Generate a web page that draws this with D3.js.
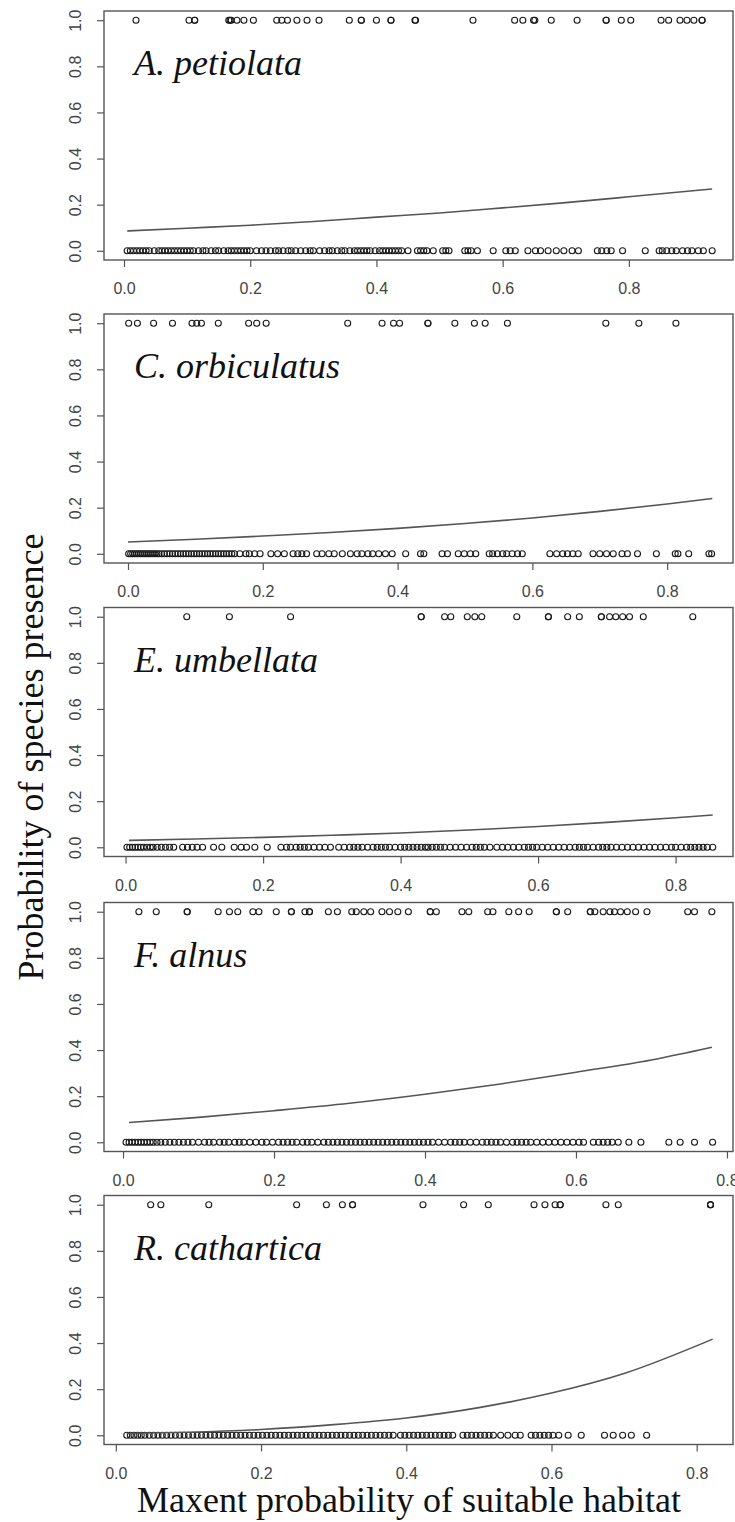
<!DOCTYPE html>
<html>
<head>
<meta charset="utf-8">
<script src="https://cdn.jsdelivr.net/npm/d3@7"></script>
<style>
  body { margin: 0; background: #fff; }
  svg { display: block; }
</style>
</head>
<body>
<svg id="chart"></svg>
<script>
// species shown in the five panels, top to bottom
const species = ['A. petiolata', 'C. orbiculatus', 'E. umbellata', 'F. alnus', 'R. cathartica'];

const xTicks = [0, 0.2, 0.4, 0.6, 0.8];
const yTicks = [0, 0.2, 0.4, 0.6, 0.8, 1.0];

// maxent values of sites where the species was found (y = 1)
const petiolataPresent = [0.019, 0.103, 0.112, 0.112, 0.166, 0.168, 0.17, 0.179, 0.19, 0.205, 0.242, 0.25, 0.259, 0.274, 0.29, 0.309,
  0.357, 0.376, 0.376, 0.4, 0.423, 0.423, 0.461, 0.462, 0.553, 0.619, 0.632, 0.649, 0.651, 0.677, 0.718, 0.764, 0.764, 0.788, 0.803,
  0.851, 0.863, 0.881, 0.892, 0.903, 0.916, 0.916];
const orbiculatusPresent = [0.001, 0.014, 0.038, 0.066, 0.095, 0.102, 0.109, 0.134, 0.179, 0.191, 0.205, 0.326, 0.377, 0.394, 0.403,
  0.445, 0.445, 0.485, 0.514, 0.53, 0.563, 0.709, 0.758, 0.813];
const umbellataPresent = [0.089, 0.151, 0.24, 0.43, 0.43, 0.464, 0.473, 0.497, 0.508, 0.518, 0.569, 0.615, 0.615, 0.643, 0.66, 0.692,
  0.692, 0.704, 0.713, 0.723, 0.733, 0.753, 0.825];
const alnusPresent = [0.021, 0.044, 0.085, 0.085, 0.126, 0.141, 0.152, 0.172, 0.18, 0.203, 0.223, 0.223, 0.241, 0.247, 0.247, 0.272,
  0.284, 0.303, 0.309, 0.319, 0.328, 0.343, 0.353, 0.364, 0.378, 0.407, 0.407, 0.415, 0.449, 0.458, 0.483, 0.49, 0.511, 0.524, 0.538,
  0.574, 0.574, 0.589, 0.619, 0.619, 0.625, 0.636, 0.645, 0.651, 0.659, 0.668, 0.679, 0.694, 0.748, 0.757, 0.78];
const catharticaPresent = [0.048, 0.062, 0.128, 0.249, 0.29, 0.312, 0.326, 0.326, 0.423, 0.479, 0.513, 0.576, 0.591, 0.605, 0.612,
  0.612, 0.675, 0.692, 0.819, 0.819, 0.819];

// maxent values of sites where the species was absent (y = 0)
const petiolataAbsent = [0.005, 0.01, 0.015, 0.02, 0.025, 0.03, 0.035, 0.04, 0.048, 0.055, 0.06, 0.065, 0.07, 0.075, 0.08, 0.085,
  0.09, 0.095, 0.1, 0.105, 0.11, 0.118, 0.125, 0.13, 0.138, 0.145, 0.15, 0.158, 0.165, 0.17, 0.175, 0.18, 0.185, 0.19, 0.195, 0.2,
  0.21, 0.218, 0.225, 0.232, 0.24, 0.245, 0.252, 0.26, 0.265, 0.272, 0.28, 0.288, 0.295, 0.3, 0.31, 0.318, 0.325, 0.33, 0.338, 0.345,
  0.35, 0.358, 0.365, 0.37, 0.375, 0.38, 0.385, 0.39, 0.398, 0.405, 0.41, 0.415, 0.42, 0.425, 0.43, 0.435, 0.44, 0.45, 0.465, 0.47,
  0.475, 0.48, 0.49, 0.505, 0.51, 0.515, 0.54, 0.545, 0.55, 0.56, 0.585, 0.605, 0.612, 0.62, 0.64, 0.652, 0.66, 0.672, 0.685, 0.697,
  0.71, 0.72, 0.75, 0.757, 0.765, 0.772, 0.79, 0.826, 0.848, 0.853, 0.86, 0.868, 0.875, 0.885, 0.893, 0.9, 0.91, 0.918, 0.932];
const orbiculatusAbsent = [0.001, 0.004, 0.007, 0.01, 0.013, 0.016, 0.019, 0.022, 0.025, 0.028, 0.031, 0.034, 0.037, 0.04, 0.043,
  0.046, 0.05, 0.054, 0.058, 0.062, 0.066, 0.07, 0.074, 0.078, 0.082, 0.086, 0.09, 0.094, 0.098, 0.102, 0.106, 0.11, 0.114, 0.118,
  0.122, 0.126, 0.13, 0.134, 0.138, 0.142, 0.146, 0.15, 0.154, 0.158, 0.166, 0.175, 0.18, 0.188, 0.196, 0.212, 0.222, 0.232, 0.245,
  0.252, 0.258, 0.265, 0.28, 0.288, 0.298, 0.306, 0.318, 0.33, 0.34, 0.347, 0.356, 0.363, 0.372, 0.382, 0.392, 0.412, 0.434, 0.439,
  0.466, 0.474, 0.49, 0.499, 0.508, 0.516, 0.536, 0.541, 0.548, 0.556, 0.562, 0.57, 0.578, 0.585, 0.626, 0.636, 0.645, 0.652, 0.66,
  0.668, 0.69, 0.7, 0.71, 0.72, 0.733, 0.741, 0.756, 0.784, 0.812, 0.816, 0.832, 0.862, 0.866];
const umbellataAbsent = [0.002, 0.006, 0.01, 0.014, 0.018, 0.022, 0.026, 0.031, 0.036, 0.04, 0.046, 0.052, 0.058, 0.064, 0.07, 0.083,
  0.09, 0.097, 0.104, 0.112, 0.128, 0.14, 0.158, 0.168, 0.176, 0.188, 0.206, 0.226, 0.234, 0.24, 0.248, 0.254, 0.26, 0.266, 0.274,
  0.282, 0.29, 0.298, 0.31, 0.318, 0.326, 0.332, 0.338, 0.344, 0.352, 0.36, 0.366, 0.372, 0.378, 0.384, 0.392, 0.4, 0.406, 0.412,
  0.418, 0.424, 0.43, 0.436, 0.44, 0.446, 0.452, 0.458, 0.464, 0.472, 0.48, 0.488, 0.496, 0.504, 0.51, 0.516, 0.522, 0.53, 0.54,
  0.548, 0.556, 0.564, 0.572, 0.58, 0.586, 0.592, 0.598, 0.606, 0.614, 0.622, 0.63, 0.638, 0.646, 0.654, 0.66, 0.666, 0.672, 0.68,
  0.688, 0.694, 0.7, 0.706, 0.714, 0.722, 0.73, 0.738, 0.746, 0.754, 0.762, 0.77, 0.778, 0.786, 0.794, 0.8, 0.808, 0.816, 0.822,
  0.828, 0.834, 0.84, 0.846, 0.854];
const alnusAbsent = [0.004, 0.008, 0.012, 0.016, 0.02, 0.024, 0.028, 0.032, 0.036, 0.04, 0.045, 0.05, 0.056, 0.062, 0.068, 0.074,
  0.08, 0.086, 0.092, 0.1, 0.108, 0.114, 0.12, 0.128, 0.134, 0.14, 0.148, 0.154, 0.16, 0.168, 0.176, 0.184, 0.19, 0.198, 0.206,
  0.212, 0.218, 0.224, 0.23, 0.238, 0.244, 0.25, 0.258, 0.266, 0.272, 0.278, 0.284, 0.29, 0.296, 0.302, 0.308, 0.314, 0.32, 0.326,
  0.332, 0.338, 0.344, 0.35, 0.356, 0.362, 0.368, 0.374, 0.38, 0.386, 0.392, 0.398, 0.404, 0.41, 0.418, 0.426, 0.434, 0.44, 0.446,
  0.452, 0.46, 0.468, 0.476, 0.482, 0.488, 0.494, 0.5, 0.508, 0.516, 0.522, 0.528, 0.534, 0.54, 0.548, 0.556, 0.564, 0.572, 0.58,
  0.588, 0.596, 0.604, 0.61, 0.623, 0.63, 0.636, 0.642, 0.648, 0.656, 0.67, 0.686, 0.723, 0.738, 0.757, 0.781];
const catharticaAbsent = [0.015, 0.02, 0.025, 0.03, 0.035, 0.04, 0.046, 0.052, 0.058, 0.064, 0.07, 0.076, 0.082, 0.088, 0.094, 0.1,
  0.106, 0.112, 0.118, 0.124, 0.13, 0.136, 0.142, 0.148, 0.154, 0.16, 0.166, 0.172, 0.178, 0.184, 0.19, 0.196, 0.202, 0.208, 0.214,
  0.22, 0.226, 0.232, 0.238, 0.244, 0.25, 0.256, 0.262, 0.268, 0.274, 0.28, 0.286, 0.292, 0.298, 0.304, 0.31, 0.316, 0.322, 0.328,
  0.334, 0.34, 0.346, 0.352, 0.358, 0.364, 0.37, 0.376, 0.382, 0.392, 0.398, 0.404, 0.41, 0.416, 0.422, 0.428, 0.434, 0.44, 0.446,
  0.452, 0.458, 0.464, 0.478, 0.484, 0.49, 0.496, 0.502, 0.508, 0.514, 0.52, 0.53, 0.54, 0.55, 0.557, 0.572, 0.578, 0.584, 0.59,
  0.596, 0.602, 0.61, 0.623, 0.641, 0.673, 0.685, 0.698, 0.71, 0.731];

// fitted response curves as [maxent, probability]
const petiolataCurve = [[0.005, 0.086], [0.1, 0.098], [0.2, 0.111], [0.3, 0.127], [0.4, 0.146], [0.5, 0.164], [0.6, 0.186],
  [0.7, 0.209], [0.8, 0.234], [0.932, 0.268]];
const orbiculatusCurve = [[0.0, 0.051], [0.1, 0.063], [0.2, 0.077], [0.3, 0.092], [0.4, 0.11], [0.5, 0.131], [0.6, 0.155],
  [0.7, 0.184], [0.8, 0.216], [0.867, 0.24]];
const umbellataCurve = [[0.005, 0.03], [0.1, 0.036], [0.2, 0.043], [0.3, 0.052], [0.4, 0.062], [0.5, 0.075], [0.6, 0.09],
  [0.7, 0.108], [0.8, 0.128], [0.854, 0.14]];
const alnusCurve = [[0.008, 0.086], [0.1, 0.108], [0.2, 0.137], [0.3, 0.169], [0.4, 0.208], [0.5, 0.253], [0.6, 0.304],
  [0.7, 0.357], [0.78, 0.412]];
const catharticaCurve = [[0.015, 0.008], [0.1, 0.013], [0.2, 0.025], [0.3, 0.046], [0.4, 0.075], [0.5, 0.12], [0.6, 0.183],
  [0.7, 0.268], [0.822, 0.417]];

const xTitle = 'Maxent probability of suitable habitat';
const yTitle = 'Probability of species presence';

const panels = [
  { name: species[0], present: petiolataPresent, absent: petiolataAbsent, curve: petiolataCurve },
  { name: species[1], present: orbiculatusPresent, absent: orbiculatusAbsent, curve: orbiculatusCurve },
  { name: species[2], present: umbellataPresent, absent: umbellataAbsent, curve: umbellataCurve },
  { name: species[3], present: alnusPresent, absent: alnusAbsent, curve: alnusCurve },
  { name: species[4], present: catharticaPresent, absent: catharticaAbsent, curve: catharticaCurve }
];

// layout: each plot box, and the x range R padded by 4%
const width = 735, height = 1522;
const boxLeft = 104, boxRight = 733, boxHeight = 249;
const boxTops = [11, 314, 607.5, 902.5, 1195.5];
const xDomains = [[-0.0317, 0.965], [-0.0356, 0.8977], [-0.0314, 0.8835], [-0.0252, 0.808], [-0.0163, 0.85]];

const serif = '"Liberation Serif", "Times New Roman", serif';
const sans = '"Liberation Sans", Arial, sans-serif';

const svg = d3.select('#chart')
    .attr('width', width)
    .attr('height', height)
    .style('font-family', sans);

svg.append('rect').attr('width', width).attr('height', height).attr('fill', '#fff');

panels.forEach((p, i) => {
    const top = boxTops[i];
    const bottom = top + boxHeight;
    const x = d3.scaleLinear().domain(xDomains[i]).range([boxLeft, boxRight]);
    const y = d3.scaleLinear().domain([-0.04, 1.04]).range([bottom, top]);

    const g = svg.append('g').attr('class', 'panel');

    // x axis
    const xAxis = g.append('g')
        .attr('transform', 'translate(0,' + bottom + ')')
        .call(d3.axisBottom(x).tickValues(xTicks).tickSize(7).tickPadding(16).tickFormat(d3.format('.1f')));
    xAxis.select('.domain').remove();
    xAxis.selectAll('line').attr('stroke', '#555').attr('stroke-width', 1.2);
    xAxis.selectAll('text').attr('fill', '#444').style('font-size', '16px').style('font-family', sans);

    // y axis, labels turned like R's default
    const yAxis = g.append('g')
        .attr('transform', 'translate(' + boxLeft + ',0)')
        .call(d3.axisLeft(y).tickValues(yTicks).tickSize(7).tickFormat(d3.format('.1f')));
    yAxis.select('.domain').remove();
    yAxis.selectAll('line').attr('stroke', '#555').attr('stroke-width', 1.2);
    yAxis.selectAll('text')
        .attr('x', null).attr('dy', null)
        .attr('transform', 'translate(-29,0) rotate(-90)')
        .attr('text-anchor', 'middle')
        .attr('dominant-baseline', 'central')
        .attr('fill', '#444')
        .style('font-size', '16px')
        .style('font-family', sans);

    // plot box
    g.append('rect')
        .attr('x', boxLeft).attr('y', top)
        .attr('width', boxRight - boxLeft).attr('height', boxHeight)
        .attr('fill', 'none').attr('stroke', '#555').attr('stroke-width', 1.4);

    const pts = p.absent.map(v => [v, 0]).concat(p.present.map(v => [v, 1]));
    g.append('g').selectAll('circle')
        .data(pts)
        .join('circle')
        .attr('cx', d => x(d[0]))
        .attr('cy', d => y(d[1]))
        .attr('r', 3)
        .attr('fill', 'none')
        .attr('stroke', '#1a1a1a')
        .attr('stroke-width', 1.1);

    const line = d3.line()
        .x(d => x(d[0]))
        .y(d => y(d[1]))
        .curve(d3.curveMonotoneX);
    g.append('path')
        .datum(p.curve)
        .attr('d', line)
        .attr('fill', 'none')
        .attr('stroke', '#555')
        .attr('stroke-width', 1.6);

    g.append('text')
        .attr('x', 134)
        .attr('y', top + 64)
        .style('font-family', serif)
        .style('font-style', 'italic')
        .style('font-size', '36px')
        .attr('fill', '#111')
        .text(p.name);
});

svg.append('text')
    .attr('x', 409)
    .attr('y', 1512)
    .attr('text-anchor', 'middle')
    .style('font-family', serif)
    .style('font-size', '36px')
    .attr('fill', '#111')
    .text(xTitle);

svg.append('text')
    .attr('transform', 'translate(43,757) rotate(-90)')
    .attr('text-anchor', 'middle')
    .style('font-family', serif)
    .style('font-size', '36px')
    .attr('fill', '#111')
    .text(yTitle);
</script>
</body>
</html>
